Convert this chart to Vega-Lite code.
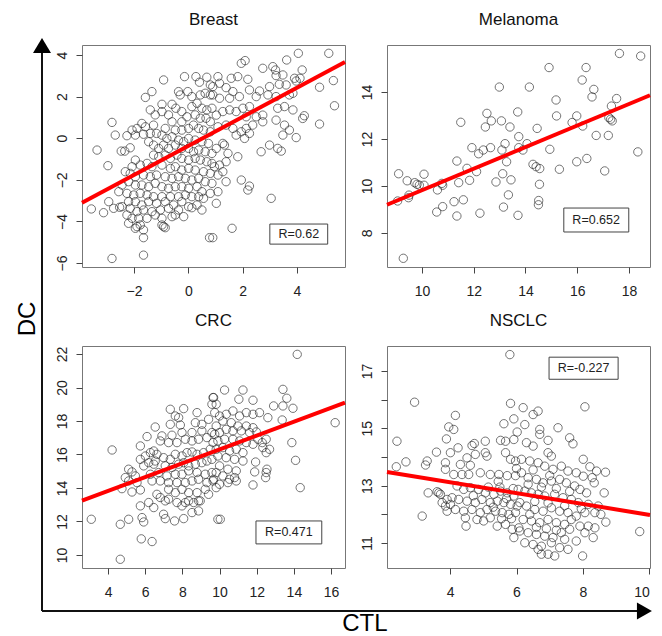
{
  "$schema": "https://vega.github.io/schema/vega-lite/v6.json",
  "padding": {"left": 15, "top": 10, "right": 0, "bottom": 0},
  "config": {
    "font": "Liberation Sans",
    "view": {"stroke": "#777", "strokeWidth": 1},
    "axis": {"grid": false, "domain": false, "tickSize": 6, "tickColor": "#444", "labelFontSize": 14, "labelColor": "#222", "labelFont": "Liberation Sans", "labelOverlap": false},
    "axisX": {"labelPadding": 11},
    "axisY": {"labelAngle": 270, "labelAlign": "center", "labelBaseline": "alphabetic", "labelPadding": 10},
    "title": {"fontSize": 17, "fontWeight": "normal", "font": "Liberation Sans", "offset": 16, "color": "#111", "anchor": "middle", "frame": "group"}
  },
  "datasets": {
    "breast": [
      {"x":-2.81,"y":-5.78},{"x":-1.65,"y":-5.62},{"x":-1.65,"y":-4.78},{"x":-2.81,"y":0.76},{"x":-2.69,"y":0.15},{"x":-3.36,"y":-0.57},{"x":-2.96,"y":-1.32},{"x":-3.57,"y":-3.40},{"x":-3.12,"y":-3.58},{"x":-2.93,"y":-3.05},{"x":-2.75,"y":-3.37},{"x":-2.53,"y":-3.32},{"x":0.78,"y":-4.78},{"x":-0.91,"y":2.80},{"x":-1.58,"y":1.96},{"x":-1.34,"y":2.24},{"x":-2.26,"y":0.12},{"x":-1.95,"y":0.15},{"x":-2.47,"y":-0.62},{"x":-2.34,"y":-0.62},{"x":-2.14,"y":-0.46},{"x":-0.97,"y":1.63},{"x":-0.60,"y":1.63},
      {"x":-0.14,"y":2.96},{"x":0.28,"y":2.96},{"x":0.68,"y":2.93},{"x":0.41,"y":2.69},{"x":0.81,"y":2.56},{"x":-0.36,"y":2.24},{"x":-0.02,"y":2.24},{"x":-0.30,"y":2.08},{"x":0.13,"y":2.00},{"x":0.44,"y":2.08},{"x":0.62,"y":2.16},{"x":0.81,"y":2.08},{"x":-0.46,"y":1.44},{"x":-0.24,"y":1.28},{"x":0.13,"y":1.52},{"x":0.32,"y":1.68},{"x":0.50,"y":1.44},{"x":0.68,"y":1.36},{"x":0.87,"y":1.44},{"x":-0.97,"y":1.28},{"x":-0.73,"y":1.12},{"x":-0.60,"y":0.79},{"x":-0.24,"y":0.79},{"x":-0.05,"y":1.03},{"x":0.25,"y":1.12},{"x":0.44,"y":0.96},{"x":0.65,"y":0.96},{"x":0.81,"y":0.79},{"x":-1.40,"y":1.36},{"x":-1.22,"y":1.12},{"x":-1.71,"y":0.71},{"x":-1.58,"y":0.55},{"x":-1.28,"y":0.63},{"x":-0.85,"y":0.47},{"x":-0.48,"y":0.39},{"x":-0.24,"y":0.39},{"x":0.01,"y":0.47},{"x":0.19,"y":0.63},{"x":0.38,"y":0.47},{"x":0.56,"y":0.39},{"x":0.81,"y":0.31},
      {"x":-1.89,"y":0.47},{"x":-2.07,"y":0.39},{"x":-1.65,"y":0.19},{"x":-1.40,"y":0.23},{"x":-1.17,"y":0.23},{"x":-0.97,"y":0.15},{"x":-0.79,"y":-0.01},{"x":-0.60,"y":0.07},{"x":-0.36,"y":-0.09},{"x":-0.17,"y":-0.17},{"x":0.01,"y":-0.01},{"x":0.25,"y":-0.09},{"x":0.50,"y":-0.17},{"x":0.74,"y":-0.25},{"x":-1.46,"y":-0.17},{"x":-1.28,"y":-0.33},{"x":-1.09,"y":-0.49},{"x":-0.91,"y":-0.33},{"x":-0.73,"y":-0.49},{"x":-0.48,"y":-0.33},{"x":-0.24,"y":-0.49},{"x":0.01,"y":-0.49},{"x":0.19,"y":-0.65},{"x":0.38,"y":-0.57},{"x":0.62,"y":-0.65},{"x":0.87,"y":-0.73},{"x":-1.28,"y":-0.81},{"x":-1.09,"y":-0.89},{"x":-0.85,"y":-0.81},{"x":-0.66,"y":-0.97},{"x":-0.42,"y":-0.81},{"x":-0.24,"y":-0.97},{"x":0.01,"y":-1.05},{"x":0.25,"y":-0.97},{"x":0.44,"y":-1.05},{"x":0.68,"y":-1.13},{"x":0.87,"y":-1.21},
      {"x":-1.95,"y":-1.05},{"x":-2.07,"y":-1.37},{"x":-1.77,"y":-1.29},{"x":-1.52,"y":-1.21},{"x":-1.34,"y":-1.37},{"x":-0.97,"y":-1.29},{"x":-0.66,"y":-1.45},{"x":-0.48,"y":-1.37},{"x":-0.24,"y":-1.53},{"x":0.01,"y":-1.45},{"x":0.25,"y":-1.53},{"x":0.56,"y":-1.61},{"x":0.81,"y":-1.69},{"x":-2.32,"y":-1.61},{"x":-2.14,"y":-1.69},{"x":-1.95,"y":-1.85},{"x":-1.65,"y":-1.77},{"x":-1.40,"y":-1.85},{"x":-1.17,"y":-1.77},{"x":-0.85,"y":-1.85},{"x":-0.60,"y":-1.93},{"x":-0.36,"y":-1.85},{"x":-0.11,"y":-1.93},{"x":0.13,"y":-2.01},{"x":0.38,"y":-1.93},{"x":0.62,"y":-2.09},{"x":0.87,"y":-2.17},
      {"x":-2.44,"y":-2.25},{"x":-2.20,"y":-2.09},{"x":-1.95,"y":-2.25},{"x":-1.71,"y":-2.25},{"x":-1.46,"y":-2.33},{"x":-1.22,"y":-2.17},{"x":-0.97,"y":-2.33},{"x":-0.73,"y":-2.41},{"x":-0.48,"y":-2.33},{"x":-0.24,"y":-2.33},{"x":0.01,"y":-2.41},{"x":0.32,"y":-2.33},{"x":0.50,"y":-2.57},{"x":0.81,"y":-2.65},{"x":-2.56,"y":-2.57},{"x":-2.26,"y":-2.65},{"x":-2.01,"y":-2.73},{"x":-1.77,"y":-2.65},{"x":-1.52,"y":-2.73},{"x":-1.28,"y":-2.81},{"x":-0.97,"y":-2.81},{"x":-0.66,"y":-2.81},{"x":-0.36,"y":-2.81},{"x":-0.11,"y":-2.73},{"x":0.13,"y":-2.81},{"x":0.38,"y":-2.81},{"x":0.56,"y":-2.89},
      {"x":-2.20,"y":-3.05},{"x":-1.95,"y":-3.05},{"x":-1.71,"y":-3.21},{"x":-1.46,"y":-3.05},{"x":-1.17,"y":-3.13},{"x":-0.85,"y":-3.05},{"x":-0.54,"y":-3.21},{"x":-0.24,"y":-3.05},{"x":0.01,"y":-3.29},{"x":0.32,"y":-3.21},{"x":-2.44,"y":-3.29},{"x":-2.14,"y":-3.37},{"x":-1.89,"y":-3.53},{"x":-1.65,"y":-3.45},{"x":-1.34,"y":-3.53},{"x":-1.03,"y":-3.45},{"x":-0.73,"y":-3.37},{"x":-0.36,"y":-3.45},{"x":0.13,"y":-3.34},{"x":0.50,"y":-3.45},{"x":-2.26,"y":-3.69},{"x":-2.07,"y":-3.85},{"x":-1.83,"y":-3.85},{"x":-1.52,"y":-3.85},{"x":-1.22,"y":-3.69},{"x":-0.97,"y":-3.85},{"x":-0.60,"y":-3.77},{"x":-0.48,"y":-3.69},{"x":-0.17,"y":-3.77},{"x":-2.20,"y":-4.09},{"x":-1.89,"y":-4.25},{"x":-1.77,"y":-4.17},{"x":-0.97,"y":-4.17},{"x":-0.91,"y":-4.25},{"x":-1.95,"y":-4.33},{"x":-1.65,"y":-4.41},{"x":-0.85,"y":-4.30},
      {"x":4.05,"y":4.08},{"x":5.17,"y":4.08},{"x":1.95,"y":3.60},{"x":2.09,"y":3.73},{"x":2.74,"y":3.36},{"x":3.11,"y":3.44},{"x":3.21,"y":3.28},{"x":3.62,"y":3.76},{"x":4.19,"y":3.28},{"x":3.23,"y":3.01},{"x":3.48,"y":3.04},{"x":1.82,"y":2.96},{"x":1.58,"y":2.88},{"x":1.09,"y":2.96},{"x":2.19,"y":2.83},{"x":3.91,"y":2.88},{"x":3.97,"y":2.75},{"x":4.11,"y":2.88},{"x":5.34,"y":2.77},{"x":4.83,"y":2.45},{"x":2.99,"y":2.48},{"x":3.35,"y":2.59},{"x":3.60,"y":2.56},{"x":2.62,"y":2.27},{"x":2.25,"y":2.32},{"x":1.64,"y":2.24},{"x":1.39,"y":2.43},{"x":1.15,"y":2.64},{"x":0.90,"y":2.48},{"x":2.50,"y":2.00},{"x":2.93,"y":2.08},{"x":3.23,"y":2.00},{"x":3.72,"y":2.08},{"x":3.85,"y":2.16},{"x":1.88,"y":2.00},{"x":1.52,"y":1.92},{"x":1.15,"y":1.92},{"x":0.90,"y":2.08},{"x":5.38,"y":1.56},{"x":3.29,"y":1.44},{"x":3.54,"y":1.52},{"x":3.85,"y":1.36},{"x":2.25,"y":1.52},{"x":2.01,"y":1.44},{"x":1.76,"y":1.28},{"x":1.52,"y":1.36},{"x":1.27,"y":1.28},{"x":1.03,"y":1.11},{"x":2.74,"y":1.11},{"x":2.50,"y":1.03},{"x":2.13,"y":1.03},{"x":4.27,"y":1.08},{"x":4.21,"y":0.95},{"x":3.23,"y":0.87},{"x":2.74,"y":0.79},{"x":4.83,"y":0.68},{"x":3.54,"y":0.63},{"x":3.72,"y":0.39},{"x":3.48,"y":0.15},{"x":3.97,"y":0.03},{"x":2.37,"y":0.63},{"x":2.13,"y":0.47},{"x":1.95,"y":0.31},{"x":1.64,"y":0.47},{"x":1.39,"y":0.63},{"x":1.09,"y":0.55},{"x":2.07,"y":-0.01},{"x":1.76,"y":0.15},{"x":2.25,"y":0.23},{"x":2.99,"y":-0.33},{"x":3.29,"y":-0.49},{"x":3.42,"y":-0.62},{"x":2.68,"y":-0.65},{"x":1.46,"y":-0.73},{"x":1.27,"y":-0.25},{"x":1.33,"y":-0.33},{"x":1.03,"y":-0.49},{"x":1.82,"y":-0.89},{"x":1.39,"y":-1.13},{"x":1.15,"y":-1.29},{"x":0.96,"y":-1.37},{"x":1.27,"y":-1.61},{"x":1.09,"y":-1.77},{"x":1.39,"y":-2.09},{"x":1.95,"y":-2.01},{"x":2.19,"y":-2.49},{"x":2.25,"y":-2.30},{"x":1.09,"y":-2.57},{"x":1.03,"y":-3.13},{"x":3.05,"y":-2.89},{"x":1.61,"y":-4.33},{"x":0.90,"y":-4.78}
    ],
    "mel": [
      {"x":9.06,"y":9.36},{"x":9.10,"y":10.52},{"x":9.43,"y":10.22},{"x":9.48,"y":9.50},{"x":9.5,"y":9.61},{"x":9.72,"y":10.14},{"x":9.81,"y":10.07},{"x":9.9,"y":10.03},{"x":10.08,"y":10.5},{"x":10.08,"y":10.03},{"x":9.28,"y":6.92},{"x":10.6,"y":9.83},{"x":10.77,"y":10.11},{"x":10.8,"y":10.03},{"x":10.57,"y":8.89},{"x":10.8,"y":9.12},{"x":11.24,"y":9.33},{"x":11.35,"y":8.72},{"x":11.42,"y":10.14},{"x":11.35,"y":11.06},{"x":11.5,"y":12.71},{"x":11.6,"y":9.41},{"x":11.74,"y":10.75},{"x":11.84,"y":10.24},{"x":11.93,"y":11.63},{"x":12.11,"y":10.61},{"x":12.19,"y":11.37},{"x":12.37,"y":11.53},{"x":12.24,"y":8.84},{"x":12.45,"y":12.51},{"x":12.51,"y":13.09},{"x":12.68,"y":12.77},{"x":12.65,"y":11.63},{"x":12.86,"y":10.17},{"x":12.99,"y":14.21},{"x":13.07,"y":12.77},{"x":13.09,"y":11.53},{"x":13.12,"y":10.52},{"x":13.15,"y":9.1},{"x":13.21,"y":11.8},{"x":13.27,"y":11.03},{"x":13.4,"y":12.51},{"x":13.44,"y":10.26},{"x":13.34,"y":9.62},{"x":13.7,"y":13.15},{"x":13.74,"y":11.63},{"x":13.74,"y":12.1},{"x":13.71,"y":8.75},{"x":13.9,"y":11.53},{"x":14.06,"y":11.8},{"x":14.15,"y":14.21},{"x":14.29,"y":10.92},{"x":14.41,"y":10.82},{"x":14.45,"y":12.45},{"x":14.55,"y":10.74},{"x":14.54,"y":10.07},{"x":14.51,"y":9.38},{"x":14.5,"y":9.2},{"x":14.91,"y":15.04},{"x":14.94,"y":11.56},{"x":15.18,"y":13.66},{"x":15.2,"y":12.98},{"x":15.31,"y":10.71},{"x":15.8,"y":12.7},{"x":15.98,"y":11.03},{"x":15.98,"y":12.98},{"x":16.19,"y":14.51},{"x":16.21,"y":12.55},{"x":16.34,"y":15.04},{"x":16.37,"y":11.17},{"x":16.57,"y":13.79},{"x":16.64,"y":14.11},{"x":16.73,"y":12.15},{"x":17.06,"y":10.64},{"x":17.2,"y":12.15},{"x":17.22,"y":12.91},{"x":17.29,"y":12.84},{"x":17.35,"y":12.77},{"x":17.32,"y":13.4},{"x":17.52,"y":13.72},{"x":17.63,"y":15.64},{"x":18.34,"y":11.45},{"x":18.45,"y":15.53}
    ],
    "crc": [
      {"x":4.22,"y":16.27},{"x":3.10,"y":12.13},{"x":4.66,"y":9.74},{"x":5.79,"y":10.96},{"x":6.37,"y":10.80},{"x":4.66,"y":11.83},{"x":5.11,"y":12.13},{"x":5.83,"y":12.23},{"x":5.92,"y":11.97},{"x":6.99,"y":12.43},{"x":7.08,"y":12.17},{"x":7.58,"y":12.03},{"x":8.07,"y":12.17},{"x":8.52,"y":12.53},{"x":8.87,"y":12.63},{"x":8.96,"y":13.23},
      {"x":7.35,"y":18.70},{"x":8.07,"y":18.74},{"x":7.62,"y":18.30},{"x":7.80,"y":18.20},{"x":6.54,"y":17.64},{"x":6.10,"y":17.07},{"x":5.74,"y":16.51},{"x":7.35,"y":17.80},{"x":7.89,"y":17.76},{"x":8.79,"y":18.50},{"x":8.70,"y":17.90},{"x":9.05,"y":17.80},{"x":9.41,"y":18.10},{"x":9.59,"y":19.00},{"x":9.68,"y":19.40},{"x":9.05,"y":17.41},{"x":8.52,"y":17.31},{"x":7.98,"y":17.31},{"x":7.44,"y":17.15},{"x":6.90,"y":17.11},{"x":6.81,"y":16.81},{"x":7.26,"y":16.71},{"x":7.71,"y":16.71},{"x":8.16,"y":16.91},{"x":8.52,"y":16.81},{"x":8.87,"y":16.91},{"x":9.32,"y":17.01},{"x":9.59,"y":17.31},
      {"x":6.28,"y":16.11},{"x":6.46,"y":16.21},{"x":6.63,"y":16.01},{"x":6.01,"y":15.91},{"x":5.74,"y":15.71},{"x":6.19,"y":15.51},{"x":6.54,"y":15.61},{"x":6.99,"y":15.81},{"x":7.35,"y":15.71},{"x":7.62,"y":16.01},{"x":7.98,"y":15.91},{"x":8.25,"y":16.11},{"x":8.52,"y":16.15},{"x":8.79,"y":16.01},{"x":9.14,"y":16.11},{"x":9.50,"y":16.31},{"x":5.92,"y":15.32},{"x":6.46,"y":15.42},{"x":7.08,"y":15.32},{"x":7.44,"y":15.22},{"x":7.80,"y":15.42},{"x":8.07,"y":15.51},{"x":8.34,"y":15.32},{"x":8.70,"y":15.42},{"x":9.05,"y":15.51},{"x":9.32,"y":15.61},{"x":9.59,"y":15.71},
      {"x":5.11,"y":15.12},{"x":5.29,"y":14.96},{"x":5.47,"y":14.72},{"x":6.28,"y":14.82},{"x":6.72,"y":14.92},{"x":7.17,"y":14.72},{"x":7.62,"y":14.82},{"x":7.98,"y":14.82},{"x":8.34,"y":15.02},{"x":8.79,"y":14.92},{"x":9.23,"y":14.82},{"x":9.59,"y":14.92},{"x":4.93,"y":14.62},{"x":5.11,"y":14.42},{"x":5.56,"y":14.32},{"x":6.37,"y":14.42},{"x":6.81,"y":14.42},{"x":7.26,"y":14.32},{"x":7.71,"y":14.32},{"x":8.16,"y":14.32},{"x":8.52,"y":14.42},{"x":8.87,"y":14.52},{"x":9.32,"y":14.32},{"x":9.68,"y":14.52},
      {"x":4.75,"y":13.96},{"x":5.29,"y":13.76},{"x":5.74,"y":13.88},{"x":6.63,"y":13.62},{"x":6.81,"y":13.43},{"x":7.26,"y":13.92},{"x":7.62,"y":13.72},{"x":7.98,"y":13.92},{"x":8.34,"y":13.72},{"x":8.79,"y":13.72},{"x":9.23,"y":13.92},{"x":9.41,"y":13.62},{"x":5.74,"y":12.93},{"x":6.19,"y":13.13},{"x":6.46,"y":12.83},{"x":7.08,"y":13.23},{"x":7.26,"y":13.33},{"x":7.71,"y":13.13},{"x":7.98,"y":12.93},{"x":8.16,"y":13.13},{"x":8.34,"y":13.23},{"x":8.61,"y":13.13},{"x":8.87,"y":13.23},
      {"x":14.18,"y":21.98},{"x":16.22,"y":17.90},{"x":13.41,"y":19.89},{"x":13.62,"y":19.36},{"x":13.95,"y":18.76},{"x":12.91,"y":18.90},{"x":13.41,"y":18.90},{"x":13.37,"y":18.06},{"x":13.89,"y":16.71},{"x":14.09,"y":15.65},{"x":14.34,"y":14.02},{"x":11.80,"y":14.18},{"x":12.51,"y":14.92},{"x":12.48,"y":14.62},{"x":12.55,"y":15.12},{"x":11.89,"y":14.96},{"x":11.94,"y":15.55},{"x":9.91,"y":12.13},{"x":10.04,"y":12.13},{"x":10.27,"y":19.85},{"x":11.26,"y":19.85},{"x":11.80,"y":19.24},{"x":11.04,"y":19.30},{"x":12.15,"y":18.50},{"x":12.60,"y":18.20},{"x":12.06,"y":16.91},{"x":12.33,"y":16.41},{"x":12.51,"y":16.11},{"x":12.30,"y":16.71},{"x":12.69,"y":16.31},{"x":12.51,"y":16.91},
      {"x":9.65,"y":19.40},{"x":9.82,"y":19.00},{"x":9.74,"y":18.50},{"x":10.00,"y":18.30},{"x":10.36,"y":18.40},{"x":10.72,"y":18.60},{"x":11.08,"y":18.30},{"x":11.44,"y":18.50},{"x":11.80,"y":18.40},{"x":10.18,"y":18.00},{"x":10.63,"y":17.90},{"x":10.99,"y":17.70},{"x":11.44,"y":17.70},{"x":11.80,"y":17.60},{"x":9.82,"y":17.70},{"x":9.74,"y":17.21},{"x":10.00,"y":17.31},{"x":10.36,"y":17.50},{"x":10.72,"y":17.41},{"x":11.17,"y":17.41},{"x":11.62,"y":17.31},{"x":11.98,"y":17.35},{"x":9.65,"y":16.71},{"x":9.91,"y":16.81},{"x":10.27,"y":16.91},{"x":10.72,"y":16.91},{"x":11.08,"y":16.81},{"x":11.44,"y":16.71},{"x":11.80,"y":16.61},{"x":9.82,"y":16.31},{"x":10.18,"y":16.41},{"x":10.54,"y":16.21},{"x":10.90,"y":16.31},{"x":11.26,"y":16.11},{"x":9.91,"y":15.91},{"x":10.36,"y":15.81},{"x":10.81,"y":15.71},{"x":11.26,"y":15.61},{"x":10.00,"y":15.32},{"x":10.45,"y":15.12},{"x":10.90,"y":15.02},{"x":9.82,"y":14.92},{"x":10.18,"y":14.72},{"x":10.54,"y":14.52},{"x":10.90,"y":14.42},{"x":9.65,"y":14.42},{"x":10.00,"y":14.22},{"x":10.45,"y":14.32},{"x":10.81,"y":14.62},{"x":9.82,"y":14.02}
    ],
    "nsclc": [
      {"x":5.80,"y":17.57},{"x":2.93,"y":15.91},{"x":4.16,"y":15.45},{"x":3.96,"y":15.05},{"x":4.11,"y":14.96},{"x":2.40,"y":14.55},{"x":2.67,"y":13.83},{"x":2.38,"y":13.66},{"x":3.31,"y":13.86},{"x":3.26,"y":13.72},{"x":3.89,"y":14.63},{"x":4.24,"y":14.32},{"x":3.59,"y":14.17},{"x":3.16,"y":11.94},{"x":3.34,"y":12.75},{"x":3.61,"y":12.79},{"x":3.66,"y":12.75},{"x":3.71,"y":12.70},{"x":3.86,"y":12.29},{"x":3.91,"y":12.11},{"x":4.46,"y":11.88},{"x":4.48,"y":11.59},{"x":5.82,"y":15.87},{"x":5.62,"y":15.16},{"x":5.92,"y":15.33},{"x":6.02,"y":14.87},{"x":4.66,"y":14.40},{"x":4.73,"y":14.47},{"x":5.06,"y":14.55},{"x":5.52,"y":14.58},{"x":5.67,"y":14.55},{"x":5.92,"y":14.61},{"x":4.76,"y":14.09},{"x":4.51,"y":13.97},{"x":5.06,"y":14.15},{"x":5.11,"y":14.03},{"x":4.01,"y":14.15},{"x":3.86,"y":13.80},{"x":4.31,"y":13.74},{"x":4.61,"y":13.71},{"x":5.67,"y":14.15},{"x":5.82,"y":13.92},{"x":5.97,"y":13.86},{"x":3.86,"y":13.57},{"x":4.11,"y":13.39},{"x":4.36,"y":13.39},{"x":4.56,"y":13.39},{"x":4.91,"y":13.45},{"x":5.21,"y":13.39},{"x":5.47,"y":13.39},{"x":5.72,"y":13.35},{"x":5.97,"y":13.35},
      {"x":4.21,"y":12.99},{"x":4.41,"y":12.87},{"x":4.61,"y":12.93},{"x":4.86,"y":12.87},{"x":5.06,"y":12.75},{"x":5.32,"y":12.70},{"x":5.52,"y":12.81},{"x":5.72,"y":12.75},{"x":5.92,"y":12.64},{"x":4.06,"y":12.58},{"x":4.26,"y":12.52},{"x":4.51,"y":12.46},{"x":4.76,"y":12.41},{"x":4.96,"y":12.52},{"x":5.21,"y":12.41},{"x":5.42,"y":12.46},{"x":5.62,"y":12.41},{"x":5.82,"y":12.35},{"x":6.02,"y":12.29},{"x":4.16,"y":12.17},{"x":4.41,"y":12.11},{"x":4.66,"y":12.17},{"x":4.91,"y":12.06},{"x":5.11,"y":12.17},{"x":5.37,"y":12.11},{"x":5.57,"y":12.06},{"x":5.77,"y":12.00},{"x":5.97,"y":12.06},{"x":4.81,"y":11.82},{"x":5.01,"y":11.77},{"x":5.21,"y":11.88},{"x":5.42,"y":11.59},{"x":5.67,"y":11.65},{"x":5.87,"y":11.48},{"x":6.07,"y":11.53},{"x":5.92,"y":11.19},{"x":3.91,"y":12.52},{"x":3.76,"y":12.41},{"x":4.01,"y":12.35},
      {"x":8.06,"y":15.75},{"x":9.71,"y":11.40},{"x":7.99,"y":10.55},{"x":7.25,"y":15.02},{"x":7.60,"y":14.67},{"x":7.70,"y":14.46},{"x":6.20,"y":15.72},{"x":6.50,"y":15.48},{"x":6.65,"y":15.60},{"x":6.25,"y":15.13},{"x":6.70,"y":14.96},{"x":6.70,"y":14.79},{"x":6.95,"y":14.58},{"x":6.30,"y":14.50},{"x":6.50,"y":14.38},{"x":6.95,"y":14.15},{"x":7.05,"y":14.03},{"x":8.01,"y":13.92},{"x":8.21,"y":13.66},{"x":8.41,"y":13.51},{"x":8.68,"y":13.47},{"x":8.28,"y":13.28},{"x":8.34,"y":13.10},{"x":8.64,"y":12.75},{"x":8.54,"y":12.00},{"x":8.69,"y":11.73},{"x":8.36,"y":11.53},{"x":8.31,"y":11.19},{"x":7.30,"y":10.84},{"x":6.95,"y":10.61},{"x":7.15,"y":10.55},{"x":7.55,"y":10.78},{"x":6.65,"y":10.78},{"x":6.75,"y":10.61},
      {"x":6.15,"y":13.92},{"x":6.40,"y":13.86},{"x":6.65,"y":13.80},{"x":6.85,"y":13.68},{"x":7.10,"y":13.57},{"x":7.35,"y":13.68},{"x":7.55,"y":13.51},{"x":7.80,"y":13.45},{"x":8.01,"y":13.33},{"x":6.15,"y":13.45},{"x":6.35,"y":13.28},{"x":6.60,"y":13.22},{"x":6.80,"y":13.10},{"x":7.05,"y":13.16},{"x":7.30,"y":13.22},{"x":7.50,"y":13.10},{"x":7.75,"y":12.99},{"x":7.91,"y":12.87},{"x":8.11,"y":12.75},{"x":6.05,"y":12.87},{"x":6.25,"y":12.81},{"x":6.45,"y":12.75},{"x":6.65,"y":12.70},{"x":6.85,"y":12.64},{"x":7.15,"y":12.70},{"x":7.40,"y":12.58},{"x":7.65,"y":12.52},{"x":7.86,"y":12.41},{"x":8.16,"y":12.35},{"x":8.46,"y":12.29},{"x":6.10,"y":12.41},{"x":6.30,"y":12.29},{"x":6.55,"y":12.17},{"x":6.80,"y":12.11},{"x":7.05,"y":12.23},{"x":7.30,"y":12.11},{"x":7.55,"y":12.06},{"x":7.80,"y":11.94},{"x":8.06,"y":12.06},{"x":8.36,"y":12.06},{"x":6.20,"y":11.82},{"x":6.45,"y":11.77},{"x":6.70,"y":11.71},{"x":6.95,"y":11.82},{"x":7.20,"y":11.71},{"x":7.45,"y":11.65},{"x":7.65,"y":11.82},{"x":7.91,"y":11.59},{"x":8.16,"y":11.59},{"x":6.10,"y":11.42},{"x":6.35,"y":11.36},{"x":6.60,"y":11.30},{"x":6.85,"y":11.24},{"x":7.10,"y":11.19},{"x":7.35,"y":11.36},{"x":7.60,"y":11.48},{"x":8.06,"y":11.36},{"x":6.25,"y":11.01},{"x":6.50,"y":10.95},{"x":6.75,"y":10.89},{"x":7.05,"y":11.01},{"x":7.45,"y":11.13},{"x":7.80,"y":11.07},
      {"x":5.50,"y":12.95},{"x":5.70,"y":12.55},{"x":5.90,"y":12.90},{"x":6.35,"y":13.05},{"x":6.55,"y":12.45},{"x":6.75,"y":12.95},{"x":6.95,"y":12.40},{"x":7.20,"y":12.90},{"x":7.45,"y":12.30},{"x":5.30,"y":12.25},{"x":5.55,"y":11.85},{"x":5.85,"y":11.85},{"x":6.40,"y":12.00},{"x":6.60,"y":11.55},{"x":6.90,"y":11.50},{"x":7.20,"y":11.45},{"x":5.45,"y":13.15},{"x":6.00,"y":13.60},{"x":6.50,"y":13.55},{"x":7.00,"y":13.35},{"x":7.60,"y":12.80},{"x":7.95,"y":12.20},{"x":5.15,"y":12.95},{"x":4.70,"y":12.65}
    ]
  },
  "concat": [
    {
      "title": "Breast",
      "width": 263, "height": 222,
      "layer": [
        {"data": {"name": "breast"}, "mark": {"type": "point", "shape": "circle", "filled": false, "size": 70, "stroke": "#222", "strokeWidth": 0.9},
         "encoding": {
           "x": {"field": "x", "type": "quantitative", "title": null, "scale": {"domain": [-3.914, 5.767], "nice": false, "zero": false}, "axis": {"values": [-2, 0, 2, 4], "tickCount": 30, "format": "d", "labelOverlap": false}},
           "y": {"field": "y", "type": "quantitative", "title": null, "scale": {"domain": [-6.19, 4.48], "nice": false, "zero": false}, "axis": {"values": [-6, -4, -2, 0, 2, 4], "tickCount": 30, "format": "d", "labelOverlap": false}}
         }},
        {"data": {"values": [{"x": -3.914, "y": -3.1}, {"x": 5.767, "y": 3.66}]}, "mark": {"type": "line", "color": "#ff0000", "strokeWidth": 4},
         "encoding": {"x": {"field": "x", "type": "quantitative", "title": null}, "y": {"field": "y", "type": "quantitative", "title": null}}},
        {"data": {"values": [{}]}, "mark": {"type": "rect", "fill": "white", "stroke": "#444", "strokeWidth": 1}, "encoding": {"x": {"datum": 3.0, "title": null}, "x2": {"datum": 5.13}, "y": {"datum": -4.125, "title": null}, "y2": {"datum": -5.09}}},
        {"data": {"values": [{}]}, "mark": {"type": "text", "text": "R=0.62", "fontSize": 12.5, "color": "#222"}, "encoding": {"x": {"datum": 4.07, "title": null}, "y": {"datum": -4.6, "title": null}}}
      ]
    },
    {
      "title": "Melanoma",
      "width": 263, "height": 222,
      "layer": [
        {"data": {"name": "mel"}, "mark": {"type": "point", "shape": "circle", "filled": false, "size": 70, "stroke": "#222", "strokeWidth": 0.9},
         "encoding": {
           "x": {"field": "x", "type": "quantitative", "title": null, "scale": {"domain": [8.65, 18.81], "nice": false, "zero": false}, "axis": {"values": [10, 12, 14, 16, 18], "tickCount": 30, "format": "d", "labelOverlap": false}},
           "y": {"field": "y", "type": "quantitative", "title": null, "scale": {"domain": [6.55, 16.0], "nice": false, "zero": false}, "axis": {"values": [8, 10, 12, 14], "tickCount": 30, "format": "d", "labelOverlap": false}}
         }},
        {"data": {"values": [{"x": 8.65, "y": 9.2}, {"x": 18.81, "y": 13.86}]}, "mark": {"type": "line", "color": "#ff0000", "strokeWidth": 4},
         "encoding": {"x": {"field": "x", "type": "quantitative", "title": null}, "y": {"field": "y", "type": "quantitative", "title": null}}},
        {"data": {"values": [{}]}, "mark": {"type": "rect", "fill": "white", "stroke": "#444", "strokeWidth": 1}, "encoding": {"x": {"datum": 15.48, "title": null}, "x2": {"datum": 17.99}, "y": {"datum": 9.06, "title": null}, "y2": {"datum": 8.04}}},
        {"data": {"values": [{}]}, "mark": {"type": "text", "text": "R=0.652", "fontSize": 12.5, "color": "#222"}, "encoding": {"x": {"datum": 16.73, "title": null}, "y": {"datum": 8.55, "title": null}}}
      ]
    },
    {
      "width": 263, "height": 222,
      "layer": [
        {"data": {"name": "crc"}, "mark": {"type": "point", "shape": "circle", "filled": false, "size": 70, "stroke": "#222", "strokeWidth": 0.9},
         "encoding": {
           "x": {"field": "x", "type": "quantitative", "title": null, "scale": {"domain": [2.6, 16.75], "nice": false, "zero": false}, "axis": {"values": [4, 6, 8, 10, 12, 14, 16], "tickCount": 30, "format": "d", "labelOverlap": false}},
           "y": {"field": "y", "type": "quantitative", "title": null, "scale": {"domain": [9.22, 22.48], "nice": false, "zero": false}, "axis": {"values": [10, 12, 14, 16, 18, 20, 22], "tickCount": 30, "format": "d", "labelOverlap": false}}
         }},
        {"data": {"values": [{"x": 2.6, "y": 13.24}, {"x": 16.75, "y": 19.1}]}, "mark": {"type": "line", "color": "#ff0000", "strokeWidth": 4},
         "encoding": {"x": {"field": "x", "type": "quantitative", "title": null}, "y": {"field": "y", "type": "quantitative", "title": null}}},
        {"data": {"values": [{}]}, "mark": {"type": "rect", "fill": "white", "stroke": "#444", "strokeWidth": 1}, "encoding": {"x": {"datum": 11.96, "title": null}, "x2": {"datum": 15.5}, "y": {"datum": 12.03, "title": null}, "y2": {"datum": 10.66}}},
        {"data": {"values": [{}]}, "mark": {"type": "text", "text": "R=0.471", "fontSize": 12.5, "color": "#222"}, "encoding": {"x": {"datum": 13.73, "title": null}, "y": {"datum": 11.35, "title": null}}},
        {"data": {"values": [{}]}, "mark": {"type": "text", "text": "CRC", "fontSize": 17, "baseline": "alphabetic", "color": "#111", "clip": false}, "encoding": {"x": {"datum": 9.675, "title": null}, "y": {"datum": 23.67, "title": null}}},
        {"data": {"values": [{}]}, "mark": {"type": "rule", "color": "#111", "strokeWidth": 2, "clip": false}, "encoding": {"x": {"datum": 0.448, "title": null}, "y": {"datum": 6.65, "title": null}, "y2": {"datum": 40.22}}},
        {"data": {"values": [{}]}, "mark": {"type": "rule", "color": "#111", "strokeWidth": 2, "clip": false}, "encoding": {"x": {"datum": 0.448, "title": null}, "x2": {"datum": 32.56}, "y": {"datum": 6.65, "title": null}}},
        {"data": {"values": [{}]}, "mark": {"type": "point", "shape": "M0,-0.83L-1,0.83L1,0.83Z", "filled": true, "fill": "#000", "size": 324, "opacity": 1, "clip": false}, "encoding": {"x": {"datum": 0.448, "title": null}, "y": {"datum": 40.43, "title": null}}},
        {"data": {"values": [{}]}, "mark": {"type": "point", "shape": "M0.88,0L-0.88,-1L-0.88,1Z", "filled": true, "fill": "#000", "size": 289, "opacity": 1, "clip": false}, "encoding": {"x": {"datum": 32.86, "title": null}, "y": {"datum": 6.65, "title": null}}},
        {"data": {"values": [{}]}, "mark": {"type": "text", "text": "DC", "fontSize": 24, "angle": 270, "color": "#000", "clip": false}, "encoding": {"x": {"datum": -0.305, "title": null}, "y": {"datum": 24.09, "title": null}}},
        {"data": {"values": [{}]}, "mark": {"type": "text", "text": "CTL", "fontSize": 24, "baseline": "alphabetic", "color": "#000", "clip": false}, "encoding": {"x": {"datum": 17.82, "title": null}, "y": {"datum": 5.46, "title": null}}}
      ]
    },
    {
      "title": "NSCLC",
      "width": 263, "height": 222,
      "layer": [
        {"data": {"name": "nsclc"}, "mark": {"type": "point", "shape": "circle", "filled": false, "size": 70, "stroke": "#222", "strokeWidth": 0.9},
         "encoding": {
           "x": {"field": "x", "type": "quantitative", "title": null, "scale": {"domain": [2.1, 10.02], "nice": false, "zero": false}, "axis": {"values": [4, 6, 8, 10], "tickCount": 30, "format": "d", "labelOverlap": false}},
           "y": {"field": "y", "type": "quantitative", "title": null, "scale": {"domain": [10.13, 17.87], "nice": false, "zero": false}, "axis": {"values": [11, 12, 13, 14, 15, 16, 17], "tickCount": 30, "format": "d", "labelOverlap": false, "labelExpr": "datum.value % 2 === 1 ? datum.label : ''"}}
         }},
        {"data": {"values": [{"x": 2.1, "y": 13.48}, {"x": 10.02, "y": 11.98}]}, "mark": {"type": "line", "color": "#ff0000", "strokeWidth": 4},
         "encoding": {"x": {"field": "x", "type": "quantitative", "title": null}, "y": {"field": "y", "type": "quantitative", "title": null}}},
        {"data": {"values": [{}]}, "mark": {"type": "rect", "fill": "white", "stroke": "#444", "strokeWidth": 1}, "encoding": {"x": {"datum": 6.98, "title": null}, "x2": {"datum": 9.06}, "y": {"datum": 17.48, "title": null}, "y2": {"datum": 16.71}}},
        {"data": {"values": [{}]}, "mark": {"type": "text", "text": "R=-0.227", "fontSize": 12.5, "color": "#222"}, "encoding": {"x": {"datum": 8.02, "title": null}, "y": {"datum": 17.1, "title": null}}}
      ]
    }
  ],
  "columns": 2,
  "spacing": {"row": 79, "column": 42},
  "bounds": "flush"
}
